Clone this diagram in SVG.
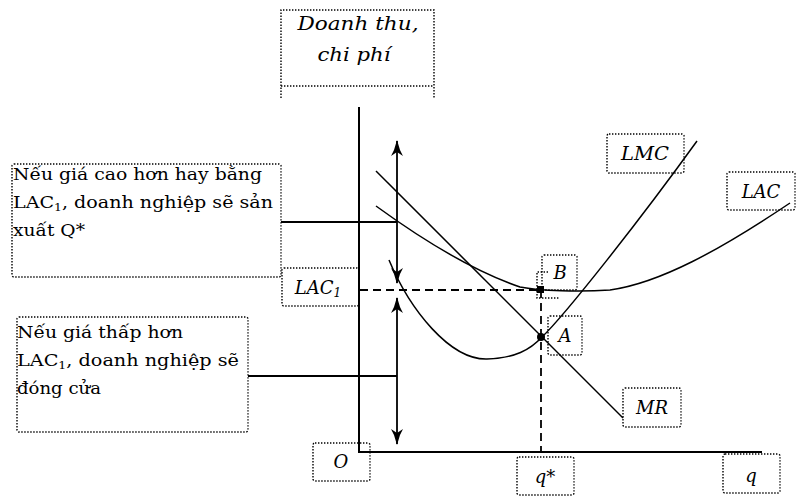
<svg xmlns="http://www.w3.org/2000/svg" width="798" height="497" viewBox="0 0 798 497">
<defs>
<style>
.box{fill:none;stroke:#000;stroke-width:1.4;stroke-dasharray:1.4 1.6}
.lbl{font-family:"DejaVu Serif","Liberation Serif",serif;font-style:italic;font-size:18px;fill:#000;text-anchor:middle}
.body{font-family:"DejaVu Serif","Liberation Serif",serif;font-size:17px;fill:#000}
.curve{fill:none;stroke:#000;stroke-width:1.5}
.axis{fill:none;stroke:#000;stroke-width:2}
.dash{fill:none;stroke:#000;stroke-width:1.8;stroke-dasharray:8 5}
.lead{fill:none;stroke:#000;stroke-width:1.8}
</style>
<marker id="ah" viewBox="0 0 16 12" refX="15" refY="6" markerWidth="16" markerHeight="12" markerUnits="userSpaceOnUse" orient="auto-start-reverse">
<path d="M0,0 L6,3 L16,6 L6,9 L0,12 L4,6 Z" fill="#000"/>
</marker>
</defs>

<g id="axes">
<line class="axis" x1="359" y1="107" x2="359" y2="452"/>
<line class="axis" x1="358" y1="452" x2="762" y2="452"/>
</g>

<g id="connectors">
<line class="lead" x1="397" y1="141" x2="397" y2="283" marker-start="url(#ah)" marker-end="url(#ah)"/>
<line class="lead" x1="397" y1="298" x2="397" y2="444" marker-start="url(#ah)" marker-end="url(#ah)"/>
<line class="lead" x1="281" y1="222" x2="397" y2="222"/>
<line class="lead" x1="248" y1="376" x2="397" y2="376"/>
<line class="dash" x1="360" y1="290" x2="541" y2="290"/>
<line class="dash" x1="541" y1="290" x2="541" y2="452"/>
</g>

<g id="curves">
<path id="LAC-curve" class="curve" d="M376,206 C420,238 470,270 520,287 C540,291 580,292 610,290 C660,283 720,250 790,203"/>
<path id="LMC-curve" class="curve" d="M389,260 C410,310 450,360 487,359 C515,358 530,350 542,337 C565,315 640,220 697,141"/>
<line id="MR-line" class="curve" x1="376" y1="171" x2="623" y2="418"/>
<rect x="537" y="286" width="7" height="7" fill="#000"/>
<circle cx="541" cy="337" r="4" fill="#000"/>
</g>

<g id="node-doanhthu">
<path class="box" d="M281,98 L281,10 L434,10 L434,98"/>
<line class="box" x1="281" y1="86" x2="434" y2="86"/>
<text class="lbl" x="358" y="30" textLength="121" lengthAdjust="spacingAndGlyphs">Doanh thu,</text>
<text class="lbl" x="354" y="61" textLength="73" lengthAdjust="spacingAndGlyphs">chi phí</text>
</g>

<g id="node-high">
<rect class="box" x="12" y="164" width="269" height="113" rx="2"/>
<text class="body" x="13" y="180" textLength="249" lengthAdjust="spacingAndGlyphs">Nếu giá cao hơn hay bằng</text>
<text class="body" x="13" y="208" textLength="260" lengthAdjust="spacingAndGlyphs">LAC<tspan font-size="11" dy="3">1</tspan><tspan dy="-3">, doanh nghiệp sẽ sản</tspan></text>
<text class="body" x="13" y="236" textLength="72" lengthAdjust="spacingAndGlyphs">xuất Q*</text>
</g>

<g id="node-low">
<rect class="box" x="17" y="317" width="231" height="115" rx="2"/>
<text class="body" x="17" y="338" textLength="166" lengthAdjust="spacingAndGlyphs">Nếu giá thấp hơn</text>
<text class="body" x="17" y="366" textLength="222" lengthAdjust="spacingAndGlyphs">LAC<tspan font-size="11" dy="3">1</tspan><tspan dy="-3">, doanh nghiệp sẽ</tspan></text>
<text class="body" x="17" y="394" textLength="84" lengthAdjust="spacingAndGlyphs">đóng cửa</text>
</g>

<g id="node-LAC1">
<rect class="box" x="282" y="268" width="77" height="38" rx="2"/>
<text class="lbl" x="318" y="294">LAC<tspan font-size="12" dy="3">1</tspan></text>
</g>

<g id="node-O">
<rect class="box" x="313" y="443" width="57" height="38" rx="2"/>
<text class="lbl" x="341" y="468">O</text>
</g>

<g id="node-qstar">
<rect class="box" x="517" y="457" width="57" height="38" rx="2"/>
<text class="lbl" x="545" y="483">q*</text>
</g>

<g id="node-q">
<rect class="box" x="723" y="454" width="57" height="39" rx="2"/>
<text class="lbl" x="751" y="482">q</text>
</g>

<g id="node-B">
<path class="box" d="M548,272 L537,272 L537,298 L560,298"/>
<rect class="box" x="542" y="255" width="35" height="35" rx="2"/>
<text class="lbl" x="560" y="279">B</text>
</g>

<g id="node-A">
<rect class="box" x="548" y="316" width="34" height="39" rx="2"/>
<text class="lbl" x="565" y="342">A</text>
</g>

<g id="node-LMC">
<rect class="box" x="607" y="134" width="77" height="39" rx="2"/>
<text class="lbl" x="645" y="160" textLength="48" lengthAdjust="spacingAndGlyphs">LMC</text>
</g>

<g id="node-LAC">
<rect class="box" x="727" y="172" width="68" height="38" rx="2"/>
<text class="lbl" x="761" y="198">LAC</text>
</g>

<g id="node-MR">
<rect class="box" x="623" y="388" width="58" height="39" rx="2"/>
<text class="lbl" x="652" y="414">MR</text>
</g>
</svg>
